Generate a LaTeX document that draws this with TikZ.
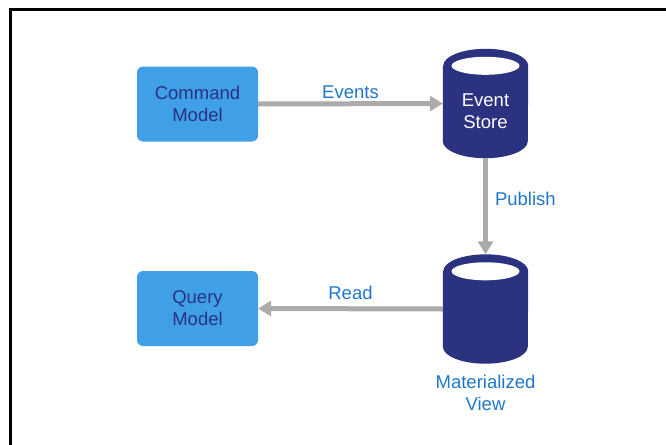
\documentclass[tikz,border=0pt]{standalone}
\usepackage{fontspec}
\setmainfont{Liberation Sans}
\usetikzlibrary{calc, arrows.meta}
\definecolor{boxblue}{HTML}{3FA0E8}
\definecolor{navy}{HTML}{2B3280}
\definecolor{labelblue}{HTML}{1F77C9}
\definecolor{flowgray}{HTML}{ABABAB}
\tikzstyle{every node}=[font=\fontsize{18.5}{22}\selectfont, align=center]
\tikzstyle{model}=[rectangle, rounded corners=6pt, fill=boxblue, text=navy, minimum width=121pt, minimum height=75pt, inner sep=0pt]
\tikzstyle{store}=[rectangle, text=white, minimum width=85pt, minimum height=109pt, inner sep=0pt]
\tikzstyle{flow}=[line width=5pt, flowgray, -{Triangle[length=13pt, width=15pt]}]
\tikzstyle{flowlabel}=[text=labelblue, inner sep=0pt]
% drum body drawn behind a store node
\newcommand{\drum}[1]{
    \fill[navy] ($(#1.north west)+(0,17)$) -- ($(#1.south west)+(0,-17)$)
        arc (180:0:42.5 and 17) -- ($(#1.north east)+(0,17)$)
        arc (0:-180:42.5 and 17) -- cycle;
    \fill[white] ($(#1.north)+(0,17)$) ellipse (34 and 9);
}

\begin{document}
\begin{tikzpicture}[x=1pt, y=-1pt]
    \useasboundingbox (0,0) rectangle (666,444);
    \clip (0,0) rectangle (666,444);
% Frame
    \draw[line width=3pt] (10.5,9.5) rectangle (720,480);
% Models
    \node[model] (cmd) at (197.5,104) {Command\\Model};
    \node[model] (qry) at (197.5,308.5) {Query\\Model};
% Stores
    \path (485.5,103.5) node[store] (es) {};
    \path (485.5,309) node[store] (mv) {};
    \drum{es}
    \drum{mv}
    \node[text=white, inner sep=0pt] (estext) at (485.5,111) {Event\\Store};
    \node[flowlabel] (mvtext) at (485.5,392.5) {Materialized\\View};
% Flows
    \draw[flow] (cmd.east) -- node[flowlabel, above=3pt] (events) {Events} (es.west);
    \draw[flow] (es.south) -- node[flowlabel, pos=0.42, right=7pt] (publish) {Publish} (mv.north);
    \draw[flow] (mv.west) -- node[flowlabel, above=7pt] (read) {Read} (qry.east);
\end{tikzpicture}
\end{document}
